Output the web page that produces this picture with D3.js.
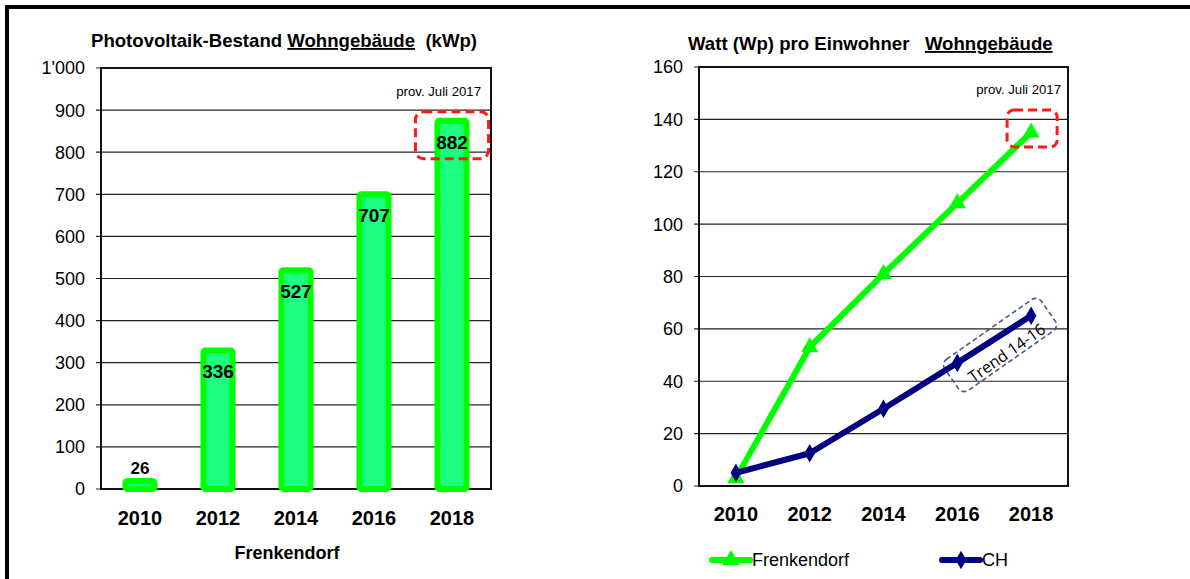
<!DOCTYPE html>
<html>
<head>
<meta charset="utf-8">
<script src="https://cdn.jsdelivr.net/npm/d3@7"></script>
<style>
  body { margin: 0; background: #fff; }
  svg { display: block; font-family: "Liberation Sans", Arial, sans-serif; }
</style>
</head>
<body>
<svg id="chart" width="1190" height="579"></svg>
<script>
/* ============================
   Daten
============================ */

const years = ["2010", "2012", "2014", "2016", "2018"];
const bestandKwp = [26, 336, 527, 707, 882];
const bestandTicks = [0, 100, 200, 300, 400, 500, 600, 700, 800, 900, 1000];

const wattFrenkendorf = [3, 53, 81, 108, 135];
const wattCH = [5, 12.5, 29.5, 47, 65];
const wattTicks = [0, 20, 40, 60, 80, 100, 120, 140, 160];

const svg = d3.select("#chart");

// Rahmen (oben + links)
svg.append("line").attr("x1", 7).attr("x2", 1190).attr("y1", 7).attr("y2", 7)
  .attr("stroke", "#000").attr("stroke-width", 4);
svg.append("line").attr("x1", 7).attr("x2", 7).attr("y1", 5).attr("y2", 579)
  .attr("stroke", "#000").attr("stroke-width", 4);

function fmtThousand(v) {
  return v >= 1000 ? d3.format(",")(v).replace(",", "'") : String(v);
}

function drawGrid(g, x0, x1, y, ticks) {
  g.selectAll("line.grid")
    .data(ticks)
    .enter()
    .append("line")
    .attr("x1", x0 - 5)
    .attr("x2", x1)
    .attr("y1", d => y(d))
    .attr("y2", d => y(d))
    .attr("stroke", "#222")
    .attr("stroke-width", 1.2);
}

/* ============================
   Linkes Diagramm: Balken
============================ */

{
  const L = 101, R = 491, T = 68, B = 489;
  const g = svg.append("g");

  const x = d3.scaleBand().domain(years).range([L, R]).paddingInner(0.55).paddingOuter(0.275);
  const y = d3.scaleLinear().domain([0, 1000]).range([B, T]);

  drawGrid(g, L, R, y, bestandTicks);

  g.selectAll("text.ytick")
    .data(bestandTicks)
    .enter()
    .append("text")
    .attr("x", 85)
    .attr("y", d => y(d))
    .attr("dy", "0.36em")
    .attr("text-anchor", "end")
    .attr("font-size", 18)
    .text(d => fmtThousand(d));

  g.append("rect")
    .attr("x", L).attr("y", T).attr("width", R - L).attr("height", B - T)
    .attr("fill", "none").attr("stroke", "#111").attr("stroke-width", 2);

  const data = years.map((yr, i) => ({ yr, v: bestandKwp[i] }));

  g.selectAll("rect.bar")
    .data(data)
    .enter()
    .append("rect")
    .attr("x", d => x(d.yr) + 3)
    .attr("y", d => y(d.v) + 3)
    .attr("width", x.bandwidth() - 6)
    .attr("height", d => y(0) - y(d.v) - 3)
    .attr("rx", 2)
    .attr("fill", "#1cff80")
    .attr("stroke", "#00ff00")
    .attr("stroke-width", 6);

  g.selectAll("text.val")
    .data(data)
    .enter()
    .append("text")
    .attr("x", d => x(d.yr) + x.bandwidth() / 2)
    .attr("y", d => d.v < 100 ? y(d.v) - 10 : y(d.v) + 24)
    .attr("dy", "0.36em")
    .attr("text-anchor", "middle")
    .attr("font-weight", "bold")
    .attr("font-size", d => d.v < 100 ? 17 : 19)
    .text(d => d.v);

  g.selectAll("text.xtick")
    .data(years)
    .enter()
    .append("text")
    .attr("x", d => x(d) + x.bandwidth() / 2)
    .attr("y", 518)
    .attr("dy", "0.36em")
    .attr("text-anchor", "middle")
    .attr("font-weight", "bold")
    .attr("font-size", 20)
    .text(d => d);

  g.append("text")
    .attr("x", 287).attr("y", 553).attr("dy", "0.36em")
    .attr("text-anchor", "middle").attr("font-weight", "bold").attr("font-size", 18)
    .text("Frenkendorf");

  const t = g.append("text")
    .attr("x", 91).attr("y", 47)
    .attr("font-weight", "bold").attr("font-size", 18.6);
  t.append("tspan").text("Photovoltaik-Bestand ");
  t.append("tspan").attr("text-decoration", "underline").text("Wohngebäude");
  t.append("tspan").text("\u00a0 (kWp)");

  g.append("text")
    .attr("x", 481).attr("y", 91).attr("dy", "0.36em")
    .attr("text-anchor", "end").attr("font-size", 13.2)
    .text("prov. Juli 2017");

  // Markierung 2018
  const last = data[data.length - 1];
  g.append("rect")
    .attr("x", x(last.yr) - 19)
    .attr("y", y(last.v) - 6)
    .attr("width", x.bandwidth() + 38)
    .attr("height", 47)
    .attr("rx", 8)
    .attr("fill", "none")
    .attr("stroke", "#ff1a1a")
    .attr("stroke-width", 3)
    .attr("stroke-dasharray", "9,5");
}

/* ============================
   Rechtes Diagramm: Linien
============================ */

{
  const L = 699, R = 1068, T = 67, B = 486;
  const g = svg.append("g");

  const x = d3.scalePoint().domain(years).range([L, R]).padding(0.5);
  const y = d3.scaleLinear().domain([0, 160]).range([B, T]);

  drawGrid(g, L, R, y, wattTicks);

  g.selectAll("text.ytick")
    .data(wattTicks)
    .enter()
    .append("text")
    .attr("x", 683)
    .attr("y", d => y(d))
    .attr("dy", "0.36em")
    .attr("text-anchor", "end")
    .attr("font-size", 18)
    .text(d => d);

  g.append("rect")
    .attr("x", L).attr("y", T).attr("width", R - L).attr("height", B - T)
    .attr("fill", "none").attr("stroke", "#111").attr("stroke-width", 2);

  g.selectAll("text.xtick")
    .data(years)
    .enter()
    .append("text")
    .attr("x", d => x(d))
    .attr("y", 514)
    .attr("dy", "0.36em")
    .attr("text-anchor", "middle")
    .attr("font-weight", "bold")
    .attr("font-size", 20)
    .text(d => d);

  const t = g.append("text")
    .attr("x", 688).attr("y", 50)
    .attr("font-weight", "bold").attr("font-size", 18.6);
  t.append("tspan").text("Watt (Wp) pro Einwohner\u00a0\u00a0 ");
  t.append("tspan").attr("text-decoration", "underline").text("Wohngebäude");

  g.append("text")
    .attr("x", 1061).attr("y", 89).attr("dy", "0.36em")
    .attr("text-anchor", "end").attr("font-size", 13.2)
    .text("prov. Juli 2017");

  // Trend-Markierung
  const tg = g.append("g").attr("transform", "translate(1000,345) rotate(-35)");
  tg.append("rect")
    .attr("x", -59).attr("y", -19).attr("width", 118).attr("height", 38)
    .attr("rx", 7)
    .attr("fill", "none").attr("stroke", "#4a5a85").attr("stroke-width", 1.6)
    .attr("stroke-dasharray", "5,3");
  tg.append("text")
    .attr("x", 1).attr("y", 16)
    .attr("text-anchor", "middle")
    .attr("font-family", "'Open Sans', sans-serif")
    .attr("font-size", 16)
    .text("Trend 14-16");

  const line = d3.line().x((d, i) => x(years[i])).y(d => y(d));

  const series = [
    { name: "Frenkendorf", values: wattFrenkendorf, color: "#00ff00", symbol: d3.symbolTriangle, size: 130 },
    { name: "CH", values: wattCH, color: "#000080", symbol: d3.symbolDiamond, size: 100 }
  ];

  series.forEach(s => {
    g.append("path")
      .attr("d", line(s.values))
      .attr("fill", "none")
      .attr("stroke", s.color)
      .attr("stroke-width", 6)
      .attr("stroke-linejoin", "round");

    g.selectAll(null)
      .data(s.values)
      .enter()
      .append("path")
      .attr("transform", (d, i) => `translate(${x(years[i])},${y(d)})`)
      .attr("d", d3.symbol().type(s.symbol).size(s.size))
      .attr("fill", s.color);
  });

  // Markierung 2018
  g.append("rect")
    .attr("x", x("2018") - 24)
    .attr("y", 110)
    .attr("width", 50)
    .attr("height", 37)
    .attr("rx", 7)
    .attr("fill", "none")
    .attr("stroke", "#ff1a1a")
    .attr("stroke-width", 3)
    .attr("stroke-dasharray", "9,5");

  // Legende
  const legendX = [712, 942];
  series.forEach((s, i) => {
    const lg = g.append("g").attr("transform", `translate(${legendX[i]},560)`);
    lg.append("line").attr("x1", 0).attr("x2", 38).attr("y1", 0).attr("y2", 0)
      .attr("stroke", s.color).attr("stroke-width", 6).attr("stroke-linecap", "round");
    lg.append("path").attr("transform", "translate(19,0)")
      .attr("d", d3.symbol().type(s.symbol).size(s.size)).attr("fill", s.color);
    lg.append("text").attr("x", 40).attr("y", 0).attr("dy", "0.36em")
      .attr("font-size", 18).text(s.name);
  });
}
</script>
</body>
</html>
